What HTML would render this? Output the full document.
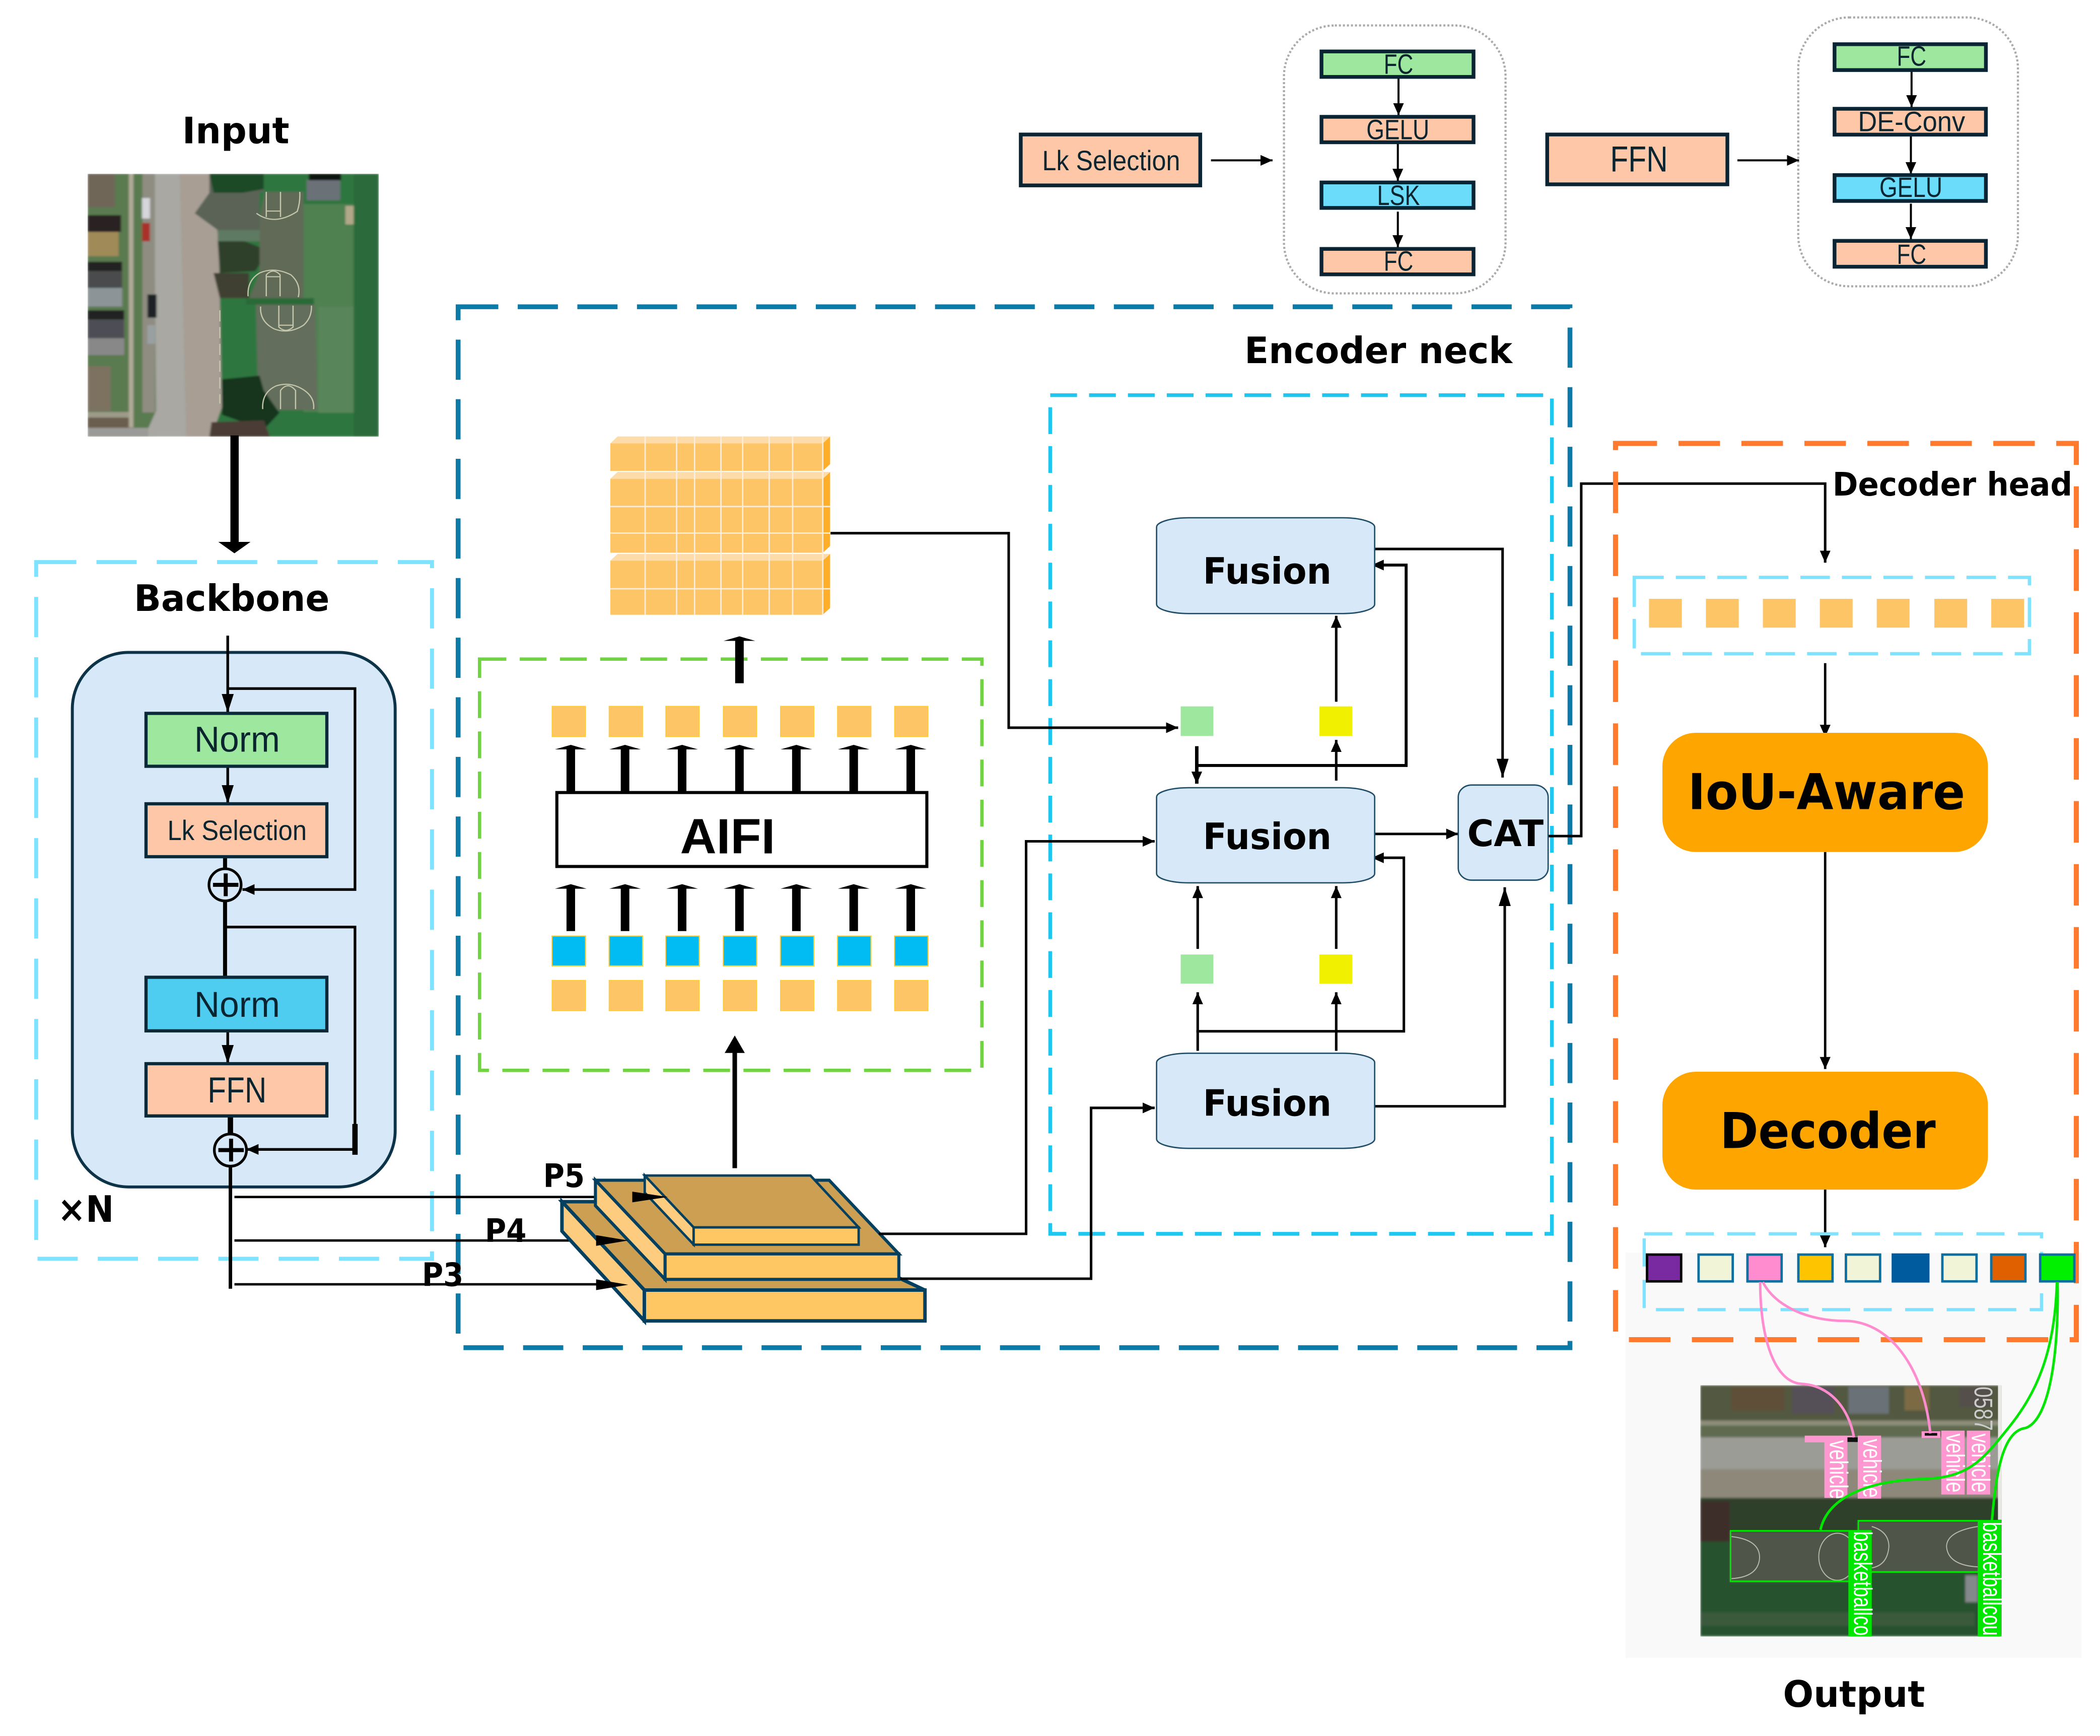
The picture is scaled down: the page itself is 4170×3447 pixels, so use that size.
<!DOCTYPE html>
<html><head><meta charset="utf-8"><style>
html,body{margin:0;padding:0;background:#fff}
svg{display:block}
.h{font-family:"DejaVu Sans","Liberation Sans",sans-serif;font-weight:700;fill:#000}
.l{font-family:"Liberation Sans",sans-serif;fill:#0b2530}
</style></head><body>
<svg xmlns="http://www.w3.org/2000/svg" width="4170" height="3447" viewBox="0 0 1567.67 1295.86">
<defs>
<marker id="a" markerUnits="userSpaceOnUse" markerWidth="9" markerHeight="8" refX="9" refY="4" orient="auto"><path d="M0,0L9,4L0,8z" fill="#000"/></marker>
<marker id="b" markerUnits="userSpaceOnUse" markerWidth="14" markerHeight="10" refX="14" refY="5" orient="auto"><path d="M0,0.5L14,5L0,9.5z" fill="#000"/></marker>
<path id="ta" d="M-3.2,35V3.4H-11.8L0,0L11.8,3.4H3.2V35z" fill="#000"/>
<filter id="bl" x="0" y="0" width="100%" height="100%"><feGaussianBlur stdDeviation="5"/></filter>
<filter id="bl2" x="0" y="0" width="100%" height="100%"><feGaussianBlur stdDeviation="3.5"/></filter>
</defs>
<rect width="1568" height="1296" fill="#fff"/>

<!-- output panel bg -->
<rect x="1213.5" y="935" width="340.5" height="302.5" fill="#f9f9f9"/>

<!-- input image -->
<svg x="65.4" y="129.7" width="217.4" height="196.3" viewBox="58 68 1392 1410" preserveAspectRatio="none">
<g filter="url(#bl)">
<rect x="58" y="68" width="1392" height="1410" fill="#2e7640"/>
<rect x="58" y="68" width="330" height="1410" fill="#5a7a50"/>
<path d="M500,68H640L685,430L700,1320L650,1478H530z" fill="#a89e94"/>
<path d="M375,68H500L530,1478H330L385,1340z" fill="#a9a8a3"/>
<rect x="320" y="68" width="60" height="1280" fill="#8f8d82"/>
<path d="M640,68H900V165L880,170V370H680L570,280L640,170z" fill="#5a6456"/>
<path d="M640,68H900V150L800,170H660z" fill="#1f4a28"/>
<path d="M680,370H880V430H680z" fill="#5f7a62"/>
<path d="M680,430H810L920,480L860,590L690,600z" fill="#2d3f2a"/>
<path d="M660,600H830V735H690z" fill="#403f32"/>
<rect x="1090" y="230" width="240" height="1115" fill="#4f8050"/>
<rect x="1160" y="780" width="170" height="570" fill="#58855a"/>
<rect x="58" y="68" width="130" height="180" fill="#6f6659"/>
<rect x="58" y="290" width="160" height="90" fill="#2a2320"/>
<rect x="58" y="380" width="148" height="130" fill="#a08a58"/>
<rect x="58" y="540" width="165" height="50" fill="#232120"/>
<rect x="58" y="590" width="165" height="90" fill="#4a4b4e"/>
<rect x="58" y="680" width="165" height="100" fill="#8c9498"/>
<rect x="58" y="800" width="175" height="50" fill="#232120"/>
<rect x="58" y="850" width="175" height="100" fill="#4e4e55"/>
<rect x="58" y="950" width="175" height="90" fill="#888888"/>
<rect x="58" y="1100" width="110" height="240" fill="#7d7260"/>
<rect x="58" y="1345" width="215" height="30" fill="#9c9a88"/>
<rect x="58" y="1375" width="215" height="55" fill="#6a5f50"/>
<rect x="58" y="1430" width="290" height="48" fill="#9a9a96"/>
<rect x="255" y="68" width="22" height="1360" fill="#b0aa98"/>
<rect x="318" y="198" width="38" height="110" fill="#d4d6da"/>
<rect x="318" y="332" width="38" height="98" fill="#a8332c"/>
<rect x="344" y="715" width="44" height="125" fill="#1f2428"/>
<rect x="344" y="880" width="36" height="100" fill="#9aa0a2"/>
<path d="M905,165H1090V735H830L880,600V300z" fill="#616b57"/>
<path d="M862,770H1145L1158,1335H875z" fill="#646e5c"/>
<path d="M815,735H1140V770H815z" fill="#2c6a38"/>
<rect x="1105" y="100" width="160" height="110" fill="#6b7278"/>
<rect x="1115" y="68" width="155" height="35" fill="#11140f"/>
<rect x="1290" y="240" width="40" height="100" fill="#b0a888"/>
<path d="M700,1170L880,1150L900,1230L975,1350L900,1440L700,1360z" fill="#15361c"/>
<path d="M650,1400L900,1390L930,1478H640z" fill="#4c3c34"/>
<rect x="1330" y="68" width="120" height="1410" fill="#2c6a3a"/>
</g>
<g fill="none" stroke="#c4c6ac" stroke-width="6">
<path d="M865,280Q950,350 1060,270Q1075,220 1072,165"/><path d="M912,165V300M980,165V300M912,268H980"/>
<path d="M825,725Q820,640 880,600Q950,565 1030,610Q1080,660 1065,730"/><path d="M912,725V610Q945,570 978,610V725M912,620H978"/>
<path d="M885,780Q880,860 950,900Q1020,930 1090,880Q1130,840 1128,775"/><path d="M972,775V890Q1005,925 1040,890V775M972,880H1040"/>
<path d="M895,1330Q890,1240 960,1205Q1030,1180 1095,1230Q1145,1270 1138,1330"/><path d="M980,1330V1230Q1015,1180 1052,1230V1330"/>
<path d="M690,800V1300" stroke-dasharray="60 30"/>
</g>
</svg>

<!-- titles -->
<text class="h" x="136" y="107" font-size="27" textLength="80" lengthAdjust="spacingAndGlyphs">Input</text>
<text class="h" x="100" y="456" font-size="27" textLength="146" lengthAdjust="spacingAndGlyphs">Backbone</text>
<text class="h" x="43" y="912" font-size="27" textLength="42" lengthAdjust="spacingAndGlyphs">×N</text>
<text class="h" x="929" y="271" font-size="27" textLength="200" lengthAdjust="spacingAndGlyphs">Encoder neck</text>
<text class="h" x="1368" y="370" font-size="24" textLength="179" lengthAdjust="spacingAndGlyphs">Decoder head</text>
<text class="h" x="1331" y="1274" font-size="27" textLength="106" lengthAdjust="spacingAndGlyphs">Output</text>

<!-- input arrow -->
<rect x="172" y="325" width="6.2" height="82" fill="#000"/>
<path d="M163,404.5H187L175,413z" fill="#000"/>

<!-- backbone -->
<rect x="27" y="419.6" width="295.5" height="520" fill="none" stroke="#7fe2ff" stroke-width="3" stroke-dasharray="30 15"/>
<rect x="54" y="487" width="241" height="399" rx="42" ry="42" fill="#d7e9f8" stroke="#0c3347" stroke-width="2.2"/>
<g fill="none" stroke="#000" stroke-width="2">
<path d="M170,474.5V532" marker-end="url(#b)" stroke-width="2"/>
<path d="M170,514H265V664H181" marker-end="url(#a)"/>
<path d="M170,572V600" marker-end="url(#b)"/>
<path d="M168,639V648M168,672V729" stroke-width="3"/>
<path d="M168,692H265V858H184" marker-end="url(#a)"/>
<path d="M265,839V862" stroke-width="4"/>
<path d="M170,769V794" marker-end="url(#b)"/>
<path d="M172,833V846" stroke-width="4"/>
<path d="M172,870V962" stroke-width="2.6"/>
</g>
<g stroke="#0a2a3a" stroke-width="2.4">
<rect x="109" y="532.5" width="135" height="39.5" fill="#9de89e"/>
<rect x="109" y="600" width="135" height="39.5" fill="#fec8a8"/>
<rect x="109" y="729.5" width="135" height="40" fill="#4fcdf1"/>
<rect x="109" y="794" width="135" height="39" fill="#fec8a8"/>
</g>
<text class="l" x="145" y="561" font-size="27" textLength="64" lengthAdjust="spacingAndGlyphs">Norm</text>
<text class="l" x="125" y="627" font-size="21" textLength="104" lengthAdjust="spacingAndGlyphs">Lk Selection</text>
<text class="l" x="145" y="759" font-size="27" textLength="64" lengthAdjust="spacingAndGlyphs">Norm</text>
<text class="l" x="155" y="823" font-size="27" textLength="44" lengthAdjust="spacingAndGlyphs">FFN</text>
<g fill="none" stroke="#000">
<circle cx="168" cy="660.5" r="12" stroke-width="2"/><path d="M159,660.5H178M168.5,652V669" stroke-width="3"/>
<circle cx="172" cy="858.5" r="12" stroke-width="2"/><path d="M163,858.5H182M172.5,850V867" stroke-width="3"/>
</g>

<!-- encoder neck frames -->
<rect x="342" y="229" width="830" height="777" fill="none" stroke="#0a7ba8" stroke-width="3.6" stroke-dasharray="30 14.5"/>
<rect x="784" y="295" width="374.5" height="626" fill="none" stroke="#1fc6f0" stroke-width="2.8" stroke-dasharray="20 9"/>
<rect x="358" y="492" width="375" height="307" fill="none" stroke="#6fd43f" stroke-width="2.5" stroke-dasharray="20 10"/>

<!-- feature cube -->
<g fill="#ffae2a">
<path d="M614.2,331L619.7,325.8V346.4L614.2,351.5z"/>
<path d="M614.2,357.4L619.7,352.3V407.6L614.2,412.6z"/>
<path d="M614.2,418.5L619.7,413.5V453.8L614.2,458.9z"/>
</g>
<g fill="#fedcaa">
<path d="M455.6,331L461,325.8H619.7L614.2,331z"/>
<path d="M455.6,357.4L461,352.3H619.7L614.2,357.4z"/>
<path d="M455.6,418.5L461,413.5H619.7L614.2,418.5z"/>
</g>
<g fill="#fdc566">
<rect x="455.6" y="331" width="158.6" height="20.5"/>
<rect x="455.6" y="357.4" width="158.6" height="55.2"/>
<rect x="455.6" y="418.5" width="158.6" height="40.4"/>
</g>
<g fill="none" stroke="#fdeedb" stroke-width="1">
<path d="M481.6,326V459M505.1,326V459M518.5,326V459M538.2,326V459M554.4,326V459M574.2,326V459M591.7,326V459M614.2,326V459"/>
<path d="M455.6,378.1H619.7M455.6,397.9H619.7M455.6,439.5H619.7"/>
</g>
<use href="#ta" x="552" y="475" />
<rect x="549" y="495" width="6" height="14" fill="#000"/>

<!-- AIFI -->
<g fill="#fdc566" stroke="#ffcc33" stroke-width="0.6">
<rect x="412.1" y="527.2" width="25" height="22.7"/><rect x="454.7" y="527.2" width="25" height="22.7"/><rect x="497" y="527.2" width="25" height="22.7"/><rect x="539.9" y="527.2" width="25" height="22.7"/><rect x="582.6" y="527.2" width="25" height="22.7"/><rect x="625.2" y="527.2" width="25" height="22.7"/><rect x="667.8" y="527.2" width="25" height="22.7"/>
<rect x="412.1" y="731.8" width="25" height="22.7"/><rect x="454.7" y="731.8" width="25" height="22.7"/><rect x="497" y="731.8" width="25" height="22.7"/><rect x="539.9" y="731.8" width="25" height="22.7"/><rect x="582.6" y="731.8" width="25" height="22.7"/><rect x="625.2" y="731.8" width="25" height="22.7"/><rect x="667.8" y="731.8" width="25" height="22.7"/>
</g>
<g fill="#00bcf2" stroke="#ffcc33" stroke-width="0.8">
<rect x="412.1" y="698.7" width="25" height="22.3"/><rect x="454.7" y="698.7" width="25" height="22.3"/><rect x="497" y="698.7" width="25" height="22.3"/><rect x="539.9" y="698.7" width="25" height="22.3"/><rect x="582.6" y="698.7" width="25" height="22.3"/><rect x="625.2" y="698.7" width="25" height="22.3"/><rect x="667.8" y="698.7" width="25" height="22.3"/>
</g>
<use href="#ta" x="426.1" y="556"/><use href="#ta" x="466.6" y="556"/><use href="#ta" x="509.2" y="556"/><use href="#ta" x="552" y="556"/><use href="#ta" x="594.5" y="556"/><use href="#ta" x="637.3" y="556"/><use href="#ta" x="679.9" y="556"/>
<use href="#ta" x="426.1" y="660"/><use href="#ta" x="466.6" y="660"/><use href="#ta" x="509.2" y="660"/><use href="#ta" x="552" y="660"/><use href="#ta" x="594.5" y="660"/><use href="#ta" x="637.3" y="660"/><use href="#ta" x="679.9" y="660"/>
<rect x="415.7" y="591.6" width="276.2" height="55.2" fill="#fff" stroke="#000" stroke-width="2.3"/>
<text x="507.7" y="637" font-family="Liberation Sans,sans-serif" font-weight="700" font-size="37" textLength="71" lengthAdjust="spacingAndGlyphs" fill="#000">AIFI</text>

<!-- P lines -->
<g stroke="#000" stroke-width="1.8" fill="none">
<path d="M175,893.5H480"/><path d="M175,926H450"/><path d="M175,958.7H450"/>
</g>

<!-- pyramid -->
<g stroke="#03405f" stroke-linejoin="miter">
<g stroke-width="2.6">
<path d="M419.5,897H550L690.4,963H481z" fill="#cd9f53"/>
<path d="M419.5,897V919L481,986V963z" fill="#fdcc7e"/>
<rect x="481" y="963" width="209.5" height="23" fill="#fec763"/>
</g>
<g stroke-width="2.3">
<path d="M444.5,881H619L671,936H496.5z" fill="#cd9f53"/>
<path d="M444.5,881V900L496.5,955V936z" fill="#fdcc7e"/>
<rect x="496.5" y="936" width="174.5" height="19" fill="#fec763"/>
</g>
<g stroke-width="1.8">
<path d="M481.3,877.5H605L641,916.2H517.8z" fill="#cd9f53"/>
<path d="M481.3,877.5V890.3L517.8,929V916.2z" fill="#fdcc7e"/>
<rect x="517.8" y="916.2" width="123.2" height="12.9" fill="#fec763"/>
</g>
</g>
<path d="M472,889.5L498.5,893.5L472,897.5z" fill="#000"/>
<path d="M445,922L469,926L445,930z" fill="#000"/>
<path d="M445,955L469,959L445,963z" fill="#000"/>
<text class="h" x="405.5" y="886" font-size="24" textLength="31" lengthAdjust="spacingAndGlyphs">P5</text>
<text class="h" x="362" y="927" font-size="24" textLength="31" lengthAdjust="spacingAndGlyphs">P4</text>
<text class="h" x="315" y="960" font-size="24" textLength="31" lengthAdjust="spacingAndGlyphs">P3</text>
<!-- up arrow -->
<rect x="546.8" y="782" width="3.4" height="90" fill="#000"/>
<path d="M548.5,773L556,786H541z" fill="#000"/>

<!-- neck connectors -->
<g fill="none" stroke="#000" stroke-width="1.9">
<path d="M620,398H753V543.2H879.5" marker-end="url(#a)"/>
<path d="M656,921H766V628H862" marker-end="url(#a)"/>
<path d="M672,954.5H814.5V827H862" marker-end="url(#a)"/>
<path d="M1026,409.8H1121.7V580.4" marker-end="url(#b)"/>
<path d="M893.4,571.4H1049.7V421.8H1024" marker-end="url(#a)" stroke-width="2.2"/>
<path d="M893.4,557V585" marker-end="url(#a)" stroke-width="2.6"/>
<path d="M997.5,523.8V459.7" marker-end="url(#a)"/>
<path d="M997.5,582.7V552.3" marker-end="url(#a)"/>
<path d="M1026,622.5H1088.6" marker-end="url(#a)"/>
<path d="M893.1,769.8H1048V640.3H1024" marker-end="url(#a)"/>
<path d="M894.1,708.3V661.4" marker-end="url(#a)"/>
<path d="M894.1,784.4V740.7" marker-end="url(#a)"/>
<path d="M997.5,708.3V661.4" marker-end="url(#a)"/>
<path d="M997.5,784.4V740.7" marker-end="url(#a)"/>
<path d="M1026,825.8H1123.3V662.3" marker-end="url(#b)"/>
<path d="M1155,624.1H1180.4V361H1362.5V420" marker-end="url(#a)"/>
</g>
<!-- fusion -->
<g fill="#d7e9f8" stroke="#1f4c66" stroke-width="1">
<rect x="863.4" y="386.5" width="162.8" height="71.5" rx="24" ry="7"/>
<rect x="863.4" y="588" width="162.8" height="71" rx="24" ry="7"/>
<rect x="863.4" y="786.2" width="162.8" height="71" rx="24" ry="7"/>
<rect x="1088.6" y="586" width="67.1" height="71" rx="10" ry="9"/>
</g>
<text class="h" x="898" y="435.7" font-size="27" textLength="96" lengthAdjust="spacingAndGlyphs">Fusion</text>
<text class="h" x="898" y="633.8" font-size="27" textLength="96" lengthAdjust="spacingAndGlyphs">Fusion</text>
<text class="h" x="898" y="832.9" font-size="27" textLength="96" lengthAdjust="spacingAndGlyphs">Fusion</text>
<text class="h" x="1095.3" y="631.6" font-size="27" textLength="57" lengthAdjust="spacingAndGlyphs">CAT</text>
<rect x="881.4" y="527.3" width="24.4" height="22.1" fill="#9de89e"/>
<rect x="985" y="527.3" width="24.4" height="22.1" fill="#f0f000"/>
<rect x="881.4" y="712.5" width="24.4" height="21.7" fill="#9de89e"/>
<rect x="985" y="712.5" width="24.4" height="21.7" fill="#f0f000"/>

<!-- decoder head -->
<rect x="1206" y="331" width="344" height="669" fill="none" stroke="#ff7a2e" stroke-width="3.8" stroke-dasharray="31 16"/>
<rect x="1220" y="431" width="295" height="57" fill="none" stroke="#7fe2ff" stroke-width="2.5" stroke-dasharray="22 9"/>
<g fill="#fdc566">
<rect x="1231" y="447" width="24.5" height="21.5"/><rect x="1273.5" y="447" width="24.5" height="21.5"/><rect x="1316" y="447" width="24.5" height="21.5"/><rect x="1358.5" y="447" width="24.5" height="21.5"/><rect x="1401" y="447" width="24.5" height="21.5"/><rect x="1444" y="447" width="24.5" height="21.5"/><rect x="1486.5" y="447" width="24.5" height="21.5"/>
</g>
<g fill="none" stroke="#000" stroke-width="1.8">
<path d="M1362.5,495V550" marker-end="url(#a)"/>
<path d="M1362.5,636V798" marker-end="url(#a)"/>
<path d="M1362.5,883V931" marker-end="url(#a)"/>
</g>
<rect x="1241" y="547" width="243" height="89" rx="25" fill="#ffa500"/>
<rect x="1241" y="800" width="243" height="88" rx="25" fill="#ffa500"/>
<text class="h" x="1260" y="604" font-size="37" textLength="207" lengthAdjust="spacingAndGlyphs">IoU-Aware</text>
<text class="h" x="1284" y="857" font-size="37" textLength="161" lengthAdjust="spacingAndGlyphs">Decoder</text>

<!-- output row -->
<rect x="1227.4" y="921" width="296.6" height="56.6" fill="none" stroke="#7fe2ff" stroke-width="2.4" stroke-dasharray="21 10"/>
<g stroke="#0d6ea0" stroke-width="1.8">
<rect x="1229.5" y="936.5" width="25.5" height="20" fill="#7a2aa0" stroke="#000"/>
<rect x="1268" y="936.5" width="25.5" height="20" fill="#f2f4d8"/>
<rect x="1304.5" y="936.5" width="25.5" height="20" fill="#ff8ccf"/>
<rect x="1342.5" y="936.5" width="25.5" height="20" fill="#ffc400"/>
<rect x="1378" y="936.5" width="25.5" height="20" fill="#f2f4d8"/>
<rect x="1413" y="936.5" width="26.5" height="20" fill="#005a9e" stroke="#005a9e"/>
<rect x="1450" y="936.5" width="25.5" height="20" fill="#f2f4d8"/>
<rect x="1486.5" y="936.5" width="25.5" height="20" fill="#e06000"/>
<rect x="1523" y="936.5" width="25.5" height="20" fill="#00f000"/>
</g>

<!-- output image -->
<svg x="1269.3" y="1034" width="225" height="187.6" viewBox="285 525 967 747" preserveAspectRatio="none">
<g filter="url(#bl2)">
<rect x="285" y="525" width="967" height="747" fill="#27532f"/>
<rect x="285" y="525" width="967" height="120" fill="#53583f"/>
<rect x="285" y="630" width="967" height="15" fill="#8e8e7c"/>
<rect x="285" y="645" width="967" height="35" fill="#5f6a50"/>
<rect x="285" y="680" width="967" height="95" fill="#9c9c96"/>
<rect x="285" y="775" width="967" height="85" fill="#8d887a"/>
<rect x="285" y="860" width="967" height="100" fill="#2d3f2c"/>
<rect x="285" y="870" width="95" height="120" fill="#3d2f2a"/>
<rect x="580" y="530" width="135" height="80" fill="#555058"/>
<rect x="760" y="530" width="130" height="80" fill="#6b7278"/>
<rect x="940" y="530" width="80" height="70" fill="#7c6a44"/>
<rect x="1115" y="530" width="100" height="60" fill="#55504c"/>
<rect x="385" y="530" width="170" height="70" fill="#5e5038"/>
<rect x="380" y="960" width="450" height="150" fill="#4f5748"/>
<rect x="790" y="930" width="400" height="150" fill="#4f5748"/>
<rect x="1135" y="1090" width="40" height="80" fill="#84888a"/>
<rect x="285" y="1200" width="880" height="40" fill="#3a5a3e"/>
</g>
<g fill="none" stroke="#b8bcaa" stroke-width="3">
<path d="M385,975Q478,985 475,1040Q470,1095 385,1100"/><ellipse cx="725" cy="1035" rx="60" ry="70"/>
<path d="M835,945Q890,960 890,1005Q885,1060 835,1068"/><path d="M1175,945Q1075,960 1075,1005Q1080,1060 1175,1065"/>
</g>
<g fill="#ff97d0">
<rect x="683" y="680" width="74" height="180"/><rect x="790" y="675" width="75" height="187"/>
<rect x="1058" y="660" width="75" height="190"/><rect x="1140" y="660" width="75" height="190"/>
<rect x="620" y="675" width="160" height="20"/><rect x="995" y="662" width="60" height="20"/>
</g>
<rect x="757" y="680" width="33" height="14" fill="#111"/><rect x="1005" y="667" width="40" height="8" fill="#111"/>
<g fill="none" stroke="#00e600" stroke-width="5">
<rect x="382" y="958" width="450" height="150"/>
<rect x="792" y="928" width="455" height="152"/>
</g>
<rect x="760" y="958" width="75" height="314" fill="#00e600"/>
<rect x="1175" y="928" width="75" height="344" fill="#00e600"/>
<rect x="1240" y="525" width="12" height="400" fill="#e8e8e4"/>
</svg>
<g font-family="Liberation Sans,sans-serif" fill="#fff" font-size="19">
<text transform="translate(1366,1075) rotate(90)" textLength="44" lengthAdjust="spacingAndGlyphs">vehicle</text>
<text transform="translate(1391,1074) rotate(90)" textLength="44" lengthAdjust="spacingAndGlyphs">vehicle</text>
<text transform="translate(1453,1070) rotate(90)" textLength="44" lengthAdjust="spacingAndGlyphs">vehicle</text>
<text transform="translate(1472,1070) rotate(90)" textLength="44" lengthAdjust="spacingAndGlyphs">vehicle</text>
<text transform="translate(1384,1143) rotate(90)" textLength="78" lengthAdjust="spacingAndGlyphs">basketballco</text>
<text transform="translate(1480.5,1136) rotate(90)" textLength="85" lengthAdjust="spacingAndGlyphs">basketballcou</text>
<text transform="translate(1474,1035) rotate(90)" textLength="33" lengthAdjust="spacingAndGlyphs" fill="#ccc">0587</text>
</g>
<g fill="none" stroke-width="1.9">
<path d="M1314,957C1314,1000 1325,1032 1345,1033C1365,1034 1380,1050 1384,1073" stroke="#ff8ccf"/>
<path d="M1316,957C1325,975 1350,986 1377,986C1410,986 1436,1020 1441,1070" stroke="#ff8ccf"/>
<path d="M1535.5,957C1534,1010 1520,1040 1500,1065C1480,1090 1470,1103 1436,1104C1400,1105 1365,1115 1359,1142" stroke="#00e600"/>
<path d="M1536,957C1537,1010 1530,1060 1512,1066C1495,1068 1490,1100 1487,1135" stroke="#00e600"/>
</g>

<!-- top details -->
<rect x="958.5" y="19" width="165.4" height="200" rx="38" fill="none" stroke="#aaa" stroke-width="1.6" stroke-dasharray="1.5 1.5"/>
<rect x="1342.4" y="13" width="164" height="200.7" rx="38" fill="none" stroke="#aaa" stroke-width="1.6" stroke-dasharray="1.5 1.5"/>
<g fill="none" stroke="#000" stroke-width="1.5">
<path d="M904,119.7H950" marker-end="url(#a)"/>
<path d="M1297,119.7H1343" marker-end="url(#a)"/>
<path d="M1044,58V86" marker-end="url(#a)"/><path d="M1043.5,107V135" marker-end="url(#a)"/><path d="M1043.5,158V184.5" marker-end="url(#a)"/>
<path d="M1427,53V80" marker-end="url(#a)"/><path d="M1426.5,101V130" marker-end="url(#a)"/><path d="M1426.5,152V178.5" marker-end="url(#a)"/>
</g>
<g stroke="#0a2434" stroke-width="2.8">
<rect x="762" y="100.4" width="134" height="38" fill="#fec8a8"/>
<rect x="1155" y="100.4" width="134.5" height="37.2" fill="#fec8a8"/>
<rect x="986.5" y="38.4" width="113.5" height="19" fill="#9de89e"/>
<rect x="986.5" y="87.2" width="113.5" height="19" fill="#fec8a8"/>
<rect x="986.5" y="136.2" width="113.5" height="19" fill="#6cdcfb"/>
<rect x="986.5" y="185.8" width="113.5" height="19" fill="#fec8a8"/>
<rect x="1369.5" y="33" width="113" height="19.3" fill="#9de89e"/>
<rect x="1369.5" y="81.2" width="113" height="19.3" fill="#fec8a8"/>
<rect x="1369.5" y="130.7" width="113" height="19.3" fill="#6cdcfb"/>
<rect x="1369.5" y="179.8" width="113" height="19.3" fill="#fec8a8"/>
</g>
<g font-size="21" class="l">
<text class="l" x="778" y="127" textLength="103" lengthAdjust="spacingAndGlyphs">Lk Selection</text>
<text class="l" x="1202" y="128" font-size="27" textLength="43" lengthAdjust="spacingAndGlyphs">FFN</text>
<text class="l" x="1033" y="55" textLength="22" lengthAdjust="spacingAndGlyphs">FC</text>
<text class="l" x="1020" y="104" textLength="47" lengthAdjust="spacingAndGlyphs">GELU</text>
<text class="l" x="1028" y="153" textLength="32" lengthAdjust="spacingAndGlyphs">LSK</text>
<text class="l" x="1033" y="202" textLength="22" lengthAdjust="spacingAndGlyphs">FC</text>
<text class="l" x="1416" y="49" textLength="22" lengthAdjust="spacingAndGlyphs">FC</text>
<text class="l" x="1387" y="98" textLength="80" lengthAdjust="spacingAndGlyphs">DE-Conv</text>
<text class="l" x="1403" y="147" textLength="47" lengthAdjust="spacingAndGlyphs">GELU</text>
<text class="l" x="1416" y="197" textLength="22" lengthAdjust="spacingAndGlyphs">FC</text>
</g>
</svg>
</body></html>
